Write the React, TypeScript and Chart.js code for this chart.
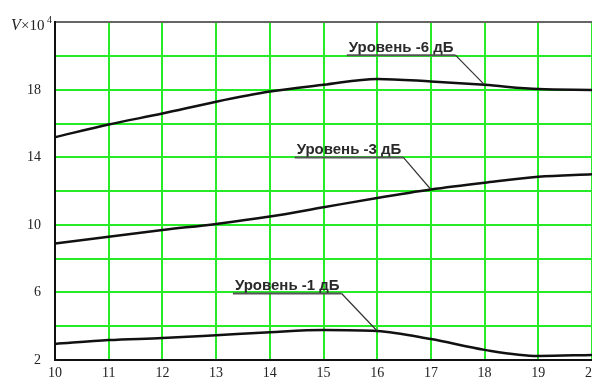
import React, { useEffect, useRef } from "react";
import { Chart, registerables } from "chart.js";

Chart.register(...registerables);

const xValues = [10, 11, 12, 13, 14, 15, 16, 17, 18, 19, 20];
const level6 = [15.2, 15.95, 16.6, 17.3, 17.9, 18.3, 18.65, 18.5, 18.3, 18.05, 18.0];
const level3 = [8.9, 9.3, 9.7, 10.06, 10.5, 11.05, 11.6, 12.1, 12.5, 12.85, 13.0];
const level1 = [2.95, 3.18, 3.3, 3.47, 3.65, 3.78, 3.72, 3.24, 2.6, 2.24, 2.3];
const seriesLabels = ["Уровень -6 дБ", "Уровень -3 дБ", "Уровень -1 дБ"];
// label anchors (data coords): x where text starts, y of underline, index of the curve point the leader goes to
const labelStartX = [15.47, 14.5, 13.35];
const labelLineY = [20.06, 14.0, 5.94];
const leaderTargetIndex = [8, 7, 6];
const yTickLabels = [2, 6, 10, 14, 18];

const GREEN = "rgb(40,235,40)";

const annotationPlugin = {
  id: "levelLabels",
  afterDatasetsDraw(chart: any) {
    const { ctx, scales } = chart;
    const xs = scales.x;
    const ys = scales.y;
    ctx.save();
    ctx.font = "bold 15px 'Liberation Sans', Arial, sans-serif";
    seriesLabels.forEach((text, i) => {
      const x0 = xs.getPixelForValue(labelStartX[i]);
      const yl = ys.getPixelForValue(labelLineY[i]);
      const w = ctx.measureText(text).width;
      ctx.fillStyle = "#2a2a2a";
      ctx.textAlign = "left";
      ctx.textBaseline = "alphabetic";
      ctx.fillText(text, x0, yl - 3);
      ctx.strokeStyle = "#555";
      ctx.lineWidth = 2;
      ctx.beginPath();
      ctx.moveTo(x0 - 2, yl);
      ctx.lineTo(x0 + w + 2, yl);
      ctx.stroke();
      const pt = chart.getDatasetMeta(i).data[leaderTargetIndex[i]];
      ctx.strokeStyle = "#333";
      ctx.lineWidth = 1.2;
      ctx.beginPath();
      ctx.moveTo(x0 + w + 2, yl);
      ctx.lineTo(pt.x, pt.y);
      ctx.stroke();
    });
    // axis title V×10^4
    const left = chart.chartArea.left;
    const top = chart.chartArea.top;
    ctx.fillStyle = "#222";
    ctx.textAlign = "left";
    ctx.font = "italic 16px 'Liberation Serif', serif";
    ctx.fillText("V", left - 44, top + 8);
    ctx.font = "15px 'Liberation Serif', serif";
    ctx.fillText("×10", left - 34, top + 8);
    ctx.font = "10px 'Liberation Serif', serif";
    ctx.fillText("4", left - 8, top + 1);
    ctx.restore();
  },
};

export default function App() {
  const ref = useRef<HTMLCanvasElement>(null);
  useEffect(() => {
    if (!ref.current) return;
    const mk = (data: number[]) => ({
      data: xValues.map((x, i) => ({ x, y: data[i] })),
      borderColor: "#111",
      borderWidth: 2.5,
      pointRadius: 0,
      cubicInterpolationMode: "monotone" as const,
      fill: false,
    });
    const chart = new Chart(ref.current, {
      type: "line",
      data: {
        datasets: [mk(level6), mk(level3), mk(level1)],
      },
      options: {
        animation: false,
        responsive: false,
        layout: { padding: { top: 20, right: 28, left: 0, bottom: 0 } },
        plugins: { legend: { display: false }, tooltip: { enabled: false } },
        scales: {
          x: {
            type: "linear",
            min: 10,
            max: 20,
            ticks: {
              stepSize: 1,
              color: "#222",
              font: { family: "'Liberation Serif', serif", size: 14 },
              padding: 5,
              maxRotation: 0,
            },
            grid: {
              color: GREEN,
              lineWidth: 2,
              drawTicks: false,
            },
            border: { color: "#111", width: 2 },
            afterFit: (s: any) => {
              s.height = 23;
            },
          },
          y: {
            min: 2,
            max: 22,
            ticks: {
              stepSize: 2,
              color: "#222",
              font: { family: "'Liberation Serif', serif", size: 14 },
              padding: 14,
              callback: (v: any) => (yTickLabels.includes(Number(v)) ? String(v) : ""),
            },
            grid: {
              color: (c: any) => (c.tick && c.tick.value === 22 ? "#666" : GREEN),
              lineWidth: 2,
              drawTicks: false,
            },
            border: { color: "#111", width: 2 },
            afterFit: (s: any) => {
              s.width = 55;
            },
          },
        },
      },
      plugins: [annotationPlugin],
    });
    return () => chart.destroy();
  }, []);
  return (
    <div
      style={{
        position: "fixed",
        left: 0,
        top: 0,
        width: 592,
        height: 383,
        overflow: "hidden",
        background: "#fff",
      }}
    >
      <canvas ref={ref} width={620} height={383} style={{ width: 620, height: 383 }} />
    </div>
  );
}
